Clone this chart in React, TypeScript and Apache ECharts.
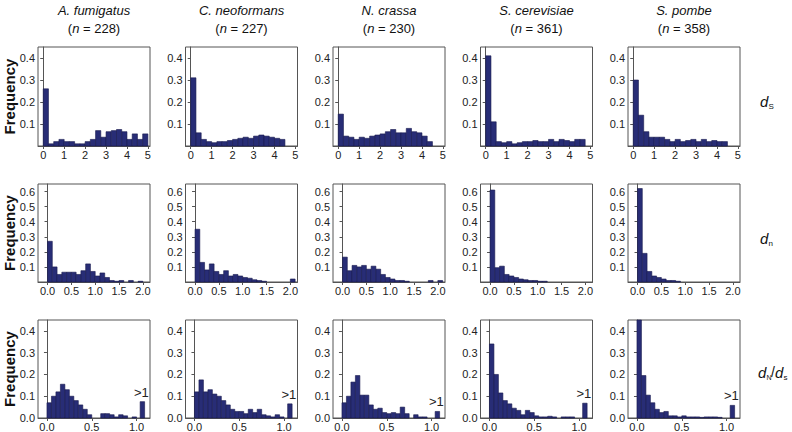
import React, { useEffect, useRef } from 'react';
import * as echarts from 'echarts';

// ---------- data ----------
const species = ['A. fumigatus', 'C. neoformans', 'N. crassa', 'S. cerevisiae', 'S. pombe'];
const sampleSizes = [228, 227, 230, 361, 358];

// dS histograms (bin width 0.25, starting at 0)
const dsBinWidth = 0.25;
const dsFumigatus = [0.26, 0.01, 0.02, 0.03, 0.02, 0.02, 0.01, 0.01, 0.02, 0.03, 0.07, 0.04, 0.065, 0.07, 0.075, 0.065, 0.03, 0.055, 0.03, 0.055];
const dsNeoformans = [0.31, 0.06, 0.03, 0.02, 0.015, 0.02, 0.02, 0.025, 0.03, 0.035, 0.04, 0.035, 0.045, 0.05, 0.045, 0.04, 0.035, 0.03];
const dsCrassa = [0.145, 0.045, 0.04, 0.03, 0.04, 0.035, 0.045, 0.05, 0.055, 0.065, 0.075, 0.06, 0.06, 0.08, 0.065, 0.06, 0.045, 0.02];
const dsCerevisiae = [0.41, 0.11, 0.02, 0.015, 0.02, 0.01, 0.015, 0.02, 0.02, 0.025, 0.02, 0.02, 0.03, 0.02, 0.03, 0.025, 0.02, 0.03, 0.03];
const dsPombe = [0.3, 0.14, 0.065, 0.04, 0.04, 0.04, 0.03, 0.02, 0.03, 0.02, 0.025, 0.03, 0.02, 0.03, 0.02, 0.025, 0.02, 0.02];

// dN histograms (bin width 0.1)
const dnBinWidth = 0.1;
const dnFumigatus = [0.27, 0.1, 0.05, 0.065, 0.065, 0.065, 0.05, 0.075, 0.12, 0.07, 0.04, 0.06, 0.03, 0.01, 0.005, 0.01, 0, 0.01, 0, 0.005];
const dnNeoformans = [0.35, 0.13, 0.08, 0.12, 0.07, 0.05, 0.075, 0.04, 0.05, 0.04, 0.03, 0.025, 0.015, 0.01, 0.005, 0, 0, 0, 0, 0, 0.02];
const dnCrassa = [0.165, 0.075, 0.11, 0.1, 0.11, 0.085, 0.105, 0.085, 0.05, 0.03, 0.02, 0.01, 0.01, 0.005, 0, 0, 0, 0, 0.01, 0, 0.01];
const dnCerevisiae = [0.61, 0.095, 0.105, 0.05, 0.04, 0.03, 0.02, 0.015, 0.01, 0.01, 0.005, 0.005];
const dnPombe = [0.62, 0.19, 0.07, 0.04, 0.03, 0.02, 0.01, 0.01, 0.005];

// dN/dS histograms (bin width 0.05) plus the ">1" overflow bin
const dndsBinWidth = 0.05;
const dndsFumigatus = [0.07, 0.1, 0.12, 0.155, 0.13, 0.1, 0.08, 0.06, 0.04, 0.015, 0, 0, 0.02, 0.02, 0.015, 0.005, 0.015, 0.01, 0, 0.005];
const dndsNeoformans = [0.12, 0.175, 0.12, 0.13, 0.11, 0.1, 0.08, 0.06, 0.04, 0.03, 0.03, 0.02, 0.04, 0.025, 0.04, 0.015, 0.01, 0.005, 0.015, 0.005];
const dndsCrassa = [0.07, 0.1, 0.165, 0.195, 0.105, 0.105, 0.06, 0.04, 0.045, 0.025, 0.02, 0.025, 0.02, 0.05, 0.02, 0, 0.015, 0.005, 0.005, 0];
const dndsCerevisiae = [0.34, 0.2, 0.115, 0.08, 0.065, 0.045, 0.035, 0.015, 0.035, 0.025, 0.01, 0.005, 0.005, 0.008, 0.005, 0, 0.005, 0.005, 0.005, 0];
const dndsPombe = [0.47, 0.195, 0.105, 0.07, 0.04, 0.025, 0.03, 0.01, 0.01, 0.005, 0.01, 0.005, 0.005, 0.005, 0.003, 0.005, 0.005, 0.005, 0.003, 0];
const dndsOverflow = [0.075, 0.065, 0.03, 0.068, 0.058];
const overflowBin = [1.04, 1.09];
const overflowLabel = '>1';

// axis ticks
const dsTicks = [0, 1, 2, 3, 4, 5];
const dnTicks = [0, 0.5, 1, 1.5, 2];
const dndsTicks = [0, 0.5, 1];
const freqTicksA = [0, 0.1, 0.2, 0.3, 0.4];
const freqTicksB = [0, 0.1, 0.2, 0.3, 0.4, 0.5, 0.6];

// ---------- layout / style ----------
const FONT = 'Liberation Sans, Arial, Helvetica, sans-serif';
const colLeft = [38, 185.5, 333, 480.5, 628];
const panelW = 112;
const rowTop = [47, 184, 320];
const rowH = [99, 98, 98];
const BAR_FILL = '#282d76';
const BAR_STROKE = '#171a4d';
const AXIS_COLOR = '#555555';

const rows = [
  { data: [dsFumigatus, dsNeoformans, dsCrassa, dsCerevisiae, dsPombe], bw: dsBinWidth, xMin: -0.25, xMax: 5.1, xTicks: dsTicks, xDigits: 0, yMax: 0.45, yTicks: freqTicksA, showZero: false },
  { data: [dnFumigatus, dnNeoformans, dnCrassa, dnCerevisiae, dnPombe], bw: dnBinWidth, xMin: -0.2, xMax: 2.15, xTicks: dnTicks, xDigits: 1, yMax: 0.65, yTicks: freqTicksB, showZero: false },
  { data: [dndsFumigatus, dndsNeoformans, dndsCrassa, dndsCerevisiae, dndsPombe], bw: dndsBinWidth, xMin: -0.1, xMax: 1.15, xTicks: dndsTicks, xDigits: 1, yMax: 0.45, yTicks: freqTicksA, showZero: true },
];

function renderBar(params: any, api: any) {
  const x0 = api.value(0);
  const x1 = api.value(1);
  const y = api.value(2);
  const flag = api.value(3);
  const p0 = api.coord([x0, y]);
  const p1 = api.coord([x1, 0]);
  const rect = { x: p0[0], y: p0[1], width: p1[0] - p0[0], height: p1[1] - p0[1] };
  const cs = params.coordSys;
  const clipped = echarts.graphic.clipRectByRect(rect, { x: cs.x, y: cs.y, width: cs.width, height: cs.height });
  const children: any[] = [];
  if (clipped) {
    children.push({ type: 'rect', shape: clipped, style: { fill: BAR_FILL, stroke: BAR_STROKE, lineWidth: 0.6 } });
  }
  if (flag === 1) {
    children.push({
      type: 'text',
      x: (p0[0] + p1[0]) / 2 - 1,
      y: p0[1] - 3,
      style: { text: overflowLabel, textAlign: 'center', textVerticalAlign: 'bottom', fontSize: 13, fontFamily: FONT, fill: '#222' },
    });
  }
  return { type: 'group', children };
}

function buildOption() {
  const grid: any[] = [];
  const xAxis: any[] = [];
  const yAxis: any[] = [];
  const series: any[] = [];
  const graphic: any[] = [];
  let idx = 0;
  rows.forEach((row, r) => {
    row.data.forEach((freqs, c) => {
      grid.push({ left: colLeft[c], top: rowTop[r], width: panelW, height: rowH[r], show: true, borderColor: AXIS_COLOR, borderWidth: 1, backgroundColor: '#fff' });
      xAxis.push({
        type: 'value', gridIndex: idx, min: row.xMin, max: row.xMax,
        axisLine: { show: true, onZero: false, lineStyle: { color: AXIS_COLOR } },
        axisTick: { show: true, inside: false, length: 3, customValues: row.xTicks, lineStyle: { color: AXIS_COLOR } },
        axisLabel: { customValues: row.xTicks, margin: 3, fontSize: 11, fontFamily: FONT, color: '#222', formatter: (v: number) => v.toFixed(row.xDigits) },
        splitLine: { show: false },
      });
      yAxis.push({
        type: 'value', gridIndex: idx, min: 0, max: row.yMax,
        axisLine: { show: true, lineStyle: { color: AXIS_COLOR } },
        axisTick: { show: true, inside: false, length: 3, customValues: row.yTicks, lineStyle: { color: AXIS_COLOR } },
        axisLabel: {
          customValues: row.showZero ? row.yTicks : row.yTicks.filter((t) => t > 0),
          margin: 3, fontSize: 11, fontFamily: FONT, color: '#222', formatter: (v: number) => v.toFixed(1),
        },
        splitLine: { show: false },
      });
      const data: number[][] = [];
      freqs.forEach((f, i) => { if (f > 0) data.push([i * row.bw, (i + 1) * row.bw, f, 0]); });
      if (r === 2) data.push([overflowBin[0], overflowBin[1], dndsOverflow[c], 1]);
      series.push({
        type: 'custom', xAxisIndex: idx, yAxisIndex: idx, renderItem: renderBar,
        dimensions: ['x0', 'x1', 'freq', 'over'], encode: { x: [0, 1], y: 2 }, data, silent: true,
      });
      idx++;
    });
    graphic.push({
      type: 'text', x: 9, y: rowTop[r] + rowH[r] / 2, rotation: Math.PI / 2,
      style: { text: 'Frequency', textAlign: 'center', textVerticalAlign: 'middle', fontSize: 15, fontWeight: 'bold', fontFamily: FONT, fill: '#111' },
    });
  });

  species.forEach((s, c) => {
    const cx = colLeft[c] + panelW / 2;
    graphic.push({ type: 'text', x: cx, y: 10, style: { text: s, textAlign: 'center', textVerticalAlign: 'middle', fontSize: 13, fontStyle: 'italic', fontFamily: FONT, fill: '#111' } });
    graphic.push({
      type: 'text', x: cx, y: 28,
      style: {
        text: '{a|(}{i|n}{a| = ' + sampleSizes[c] + ')}', textAlign: 'center', textVerticalAlign: 'middle', fontSize: 13, fontFamily: FONT, fill: '#111',
        rich: { a: { fontSize: 13, fontFamily: FONT, fill: '#111' }, i: { fontSize: 13, fontFamily: FONT, fontStyle: 'italic', fill: '#111' } },
      },
    });
  });

  const txt = (x: number, y: number, t: string, size: number, italic: boolean) => ({
    type: 'text', x, y, style: { text: t, textAlign: 'left', textVerticalAlign: 'middle', fontSize: size, fontStyle: italic ? 'italic' : 'normal', fontFamily: FONT, fill: '#111' },
  });
  const ly = [rowTop[0] + rowH[0] / 2 + 5, rowTop[1] + rowH[1] / 2 + 5, rowTop[2] + rowH[2] / 2 + 3];
  graphic.push(txt(760, ly[0], 'd', 15, true), txt(768.5, ly[0] + 5, 'S', 8, false));
  graphic.push(txt(760, ly[1], 'd', 15, true), txt(768.5, ly[1] + 5, 'n', 8, false));
  graphic.push(
    txt(758, ly[2], 'd', 15, true), txt(766.5, ly[2] + 5, 'N', 7, false),
    txt(771, ly[2], '/', 14, false), txt(775, ly[2], 'd', 15, true), txt(783.5, ly[2] + 5, 's', 8, false),
  );

  return { animation: false, backgroundColor: '#ffffff', grid, xAxis, yAxis, series, graphic };
}

export default function App() {
  const ref = useRef<HTMLDivElement>(null);
  useEffect(() => {
    const chart = echarts.init(ref.current!, null, { renderer: 'svg' });
    chart.setOption(buildOption() as any);
    return () => chart.dispose();
  }, []);
  return <div ref={ref} style={{ position: 'fixed', left: 0, top: 0, width: 792, height: 432, background: '#fff' }} />;
}
